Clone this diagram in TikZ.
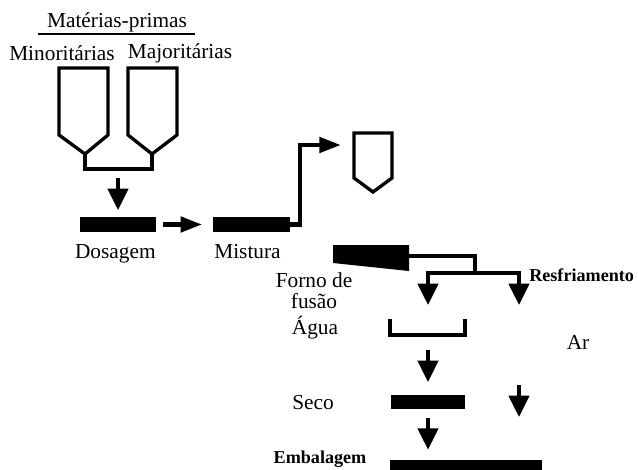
\documentclass[tikz,border=0pt]{standalone}
\usepackage{fontspec}
\setmainfont{Liberation Serif}
\usetikzlibrary{arrows.meta, positioning}

\begin{document}
\begin{tikzpicture}[
    x=0.75pt, y=-0.75pt,
    txt/.style={font=\fontsize{16}{15.8}\selectfont, inner sep=0pt, align=center},
    btxt/.style={font=\fontsize{13.6}{15}\selectfont\bfseries, inner sep=0pt},
    bar/.style={fill=black, inner sep=0pt, minimum height=11.25pt},
    line/.style={line width=2.5pt, line join=miter},
    arrow/.style={line width=3pt, -{Triangle[length=16pt, width=15pt]}},
    harrow/.style={line width=3pt, -{Triangle[length=16pt, width=11.5pt]}}
]
\useasboundingbox (0,0) rectangle (638,470);

% raw materials
\node (mp) [txt] at (117,22) {Matérias-primas};
\draw [line width=1.6pt] (38,34) -- (195,34);
\node (minor) [txt] at (62,53) {Minoritárias};
\node (major) [txt] at (180,53) {Majoritárias};

% hoppers
\draw [line] (59,68) -- (59,135) -- (85,154) -- (108,135) -- (108,68) -- cycle;
\draw [line] (128,68) -- (128,135) -- (152,154) -- (177,135) -- (177,68) -- cycle;
\draw [line] (85,154) -- (85,169) -- (152,169) -- (152,154);
\coordinate (join) at (118,169);

% dosing and mixing
\node (dos) [bar, minimum width=57pt] at (118,224.5) {};
\node (mix) [bar, minimum width=58pt] at (251.5,224.5) {};
\node (dostxt) [txt, below=9pt of dos, xshift=-2pt] {Dosagem};
\node (mixtxt) [txt, below=9pt of mix, xshift=-3pt] {Mistura};

\draw [arrow, shorten <=6.5pt, shorten >=5pt] (join) -- (dos.north);
\draw [harrow, shorten <=5pt, shorten >=8pt] (dos) -- (mix);

% small silo
\draw [line] (354,133) -- (354,178) -- (373,192) -- (392,178) -- (392,133) -- cycle;
\coordinate (silo) at (354,145);
\draw [harrow, shorten >=10pt] (mix.east) -- ++(10,0) |- (silo);

% furnace
\fill (333,245) -- (409,245) -- (409,271) -- (333,263) -- cycle;
\coordinate (forno) at (409,256);
\coordinate (split) at (475,273);
\node (fornotxt) [txt] at (314,291) {Forno de\\fusão};
\node (resf) [btxt, anchor=west] at (529,275) {Resfriamento};

\draw [line] (forno) -| (split);
\draw [arrow] (split) -| (428,305);
\draw [arrow] (split) -| (519,305);

% water / air
\draw [line] (390,319) |- (465,335) -- (465,319);
\coordinate (tray) at (428,335);
\node (agua) [txt] at (315,328) {Água};
\node (ar) [txt] at (578,342) {Ar};

% dry
\node (seco) [bar, minimum width=56pt, minimum height=10.5pt] at (428,402) {};
\node (secotxt) [txt] at (313,403) {Seco};
\draw [arrow, shorten <=11pt, shorten >=9.5pt] (tray) -- (seco.north);
\coordinate (ar1) at (519,385);
\coordinate (ar2) at (519,417);
\draw [arrow] (ar1) -- (ar2);

% packing
\node (emb) [bar, minimum width=114pt, minimum height=10.5pt] at (466,467) {};
\node (embtxt) [btxt] at (320,459) {Embalagem};
\draw [arrow, shorten <=6.5pt, shorten >=7.5pt] (seco.south -| 428,0) -- (emb.north -| 428,0);
\end{tikzpicture}
\end{document}
